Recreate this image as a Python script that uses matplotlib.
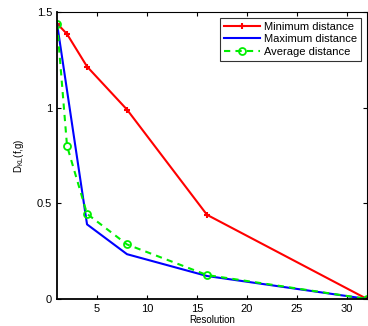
import matplotlib
matplotlib.use("Agg")
import matplotlib.pyplot as plt

resolution = [1, 2, 4, 8, 16, 32]
min_dist = [1.44, 1.385, 1.215, 0.99, 0.44, 0.0]
max_res = [1, 4, 8, 16, 32]
max_dist = [1.44, 0.39, 0.234, 0.12, 0.0]
avg_dist = [1.44, 0.80, 0.445, 0.285, 0.125, 0.0]

plt.rcParams['font.family'] = ['Liberation Sans', 'DejaVu Sans']

fig = plt.figure(figsize=(3.68, 3.26), dpi=100)
ax = fig.add_axes([0.155, 0.083, 0.842, 0.88])

ax.plot(resolution, min_dist, color='red', lw=1.5, marker='+', ms=4.5, mew=1.5,
        label='Minimum distance')
ax.plot(max_res, max_dist, color='blue', lw=1.5, label='Maximum distance')
ax.plot(resolution, avg_dist, color='#00ee00', lw=1.5, ls='--', dashes=(3, 2.5),
        marker='o', ms=5, mfc='none', mew=1.3, label='Average distance')

ax.set_xlim(1, 32)
ax.set_ylim(0, 1.5)
ax.set_xticks([5, 10, 15, 20, 25, 30])
ax.set_yticks([0, 0.5, 1, 1.5])
ax.set_yticklabels(['0', '0.5', '1', '1.5'])
ax.tick_params(direction='in', labelsize=8, length=3, top=True, right=True)
ax.spines['left'].set_linewidth(1.3)
ax.spines['bottom'].set_linewidth(1.3)
ax.set_xlabel('Resolution', fontsize=7, labelpad=1)
ax.set_ylabel(r'D$_{\mathregular{KL}}$(f,g)', fontsize=7, labelpad=8)

leg = ax.legend(loc='upper right', fontsize=8, frameon=True, fancybox=False,
                borderpad=0.35, labelspacing=0.25, handlelength=3.2,
                handletextpad=0.4, borderaxespad=0.5)
leg.get_frame().set_edgecolor('black')
leg.get_frame().set_linewidth(0.8)

fig.savefig('out.png', dpi=100)
